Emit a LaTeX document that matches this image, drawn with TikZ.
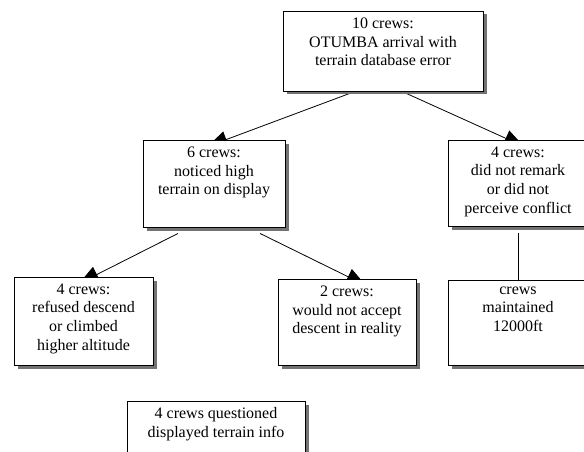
\documentclass[tikz,border=0pt]{standalone}
\usepackage{fontspec}
\setmainfont{Liberation Serif}
\usetikzlibrary{positioning, arrows.meta}
\pgfdeclarelayer{background}
\pgfsetlayers{background,main}

\begin{document}
\begin{tikzpicture}[x=1pt, y=1pt,
	box/.style={draw, fill=white, line width=0.9pt, rectangle, inner sep=0pt,
		preaction={draw=none, fill=black!55, transform canvas={shift={(3.5pt,-3.5pt)}}}},
	txt/.style={align=center, inner sep=0pt, font=\fontsize{16}{18.7}\selectfont,
		execute at begin node=\strut},
	link/.style={line width=0.8pt, -{Triangle[length=20pt, width=17pt]}}]
	\useasboundingbox (0,0) rectangle (584,-452);

	\node[box, minimum width=200pt, minimum height=80pt] (all) at (383,-51) {};
	\node[box, minimum width=142pt, minimum height=87pt] (noticed) at (214,-183.5) {};
	\node[box, minimum width=140pt, minimum height=86pt] (noremark) at (518,-183) {};
	\node[box, minimum width=139pt, minimum height=88pt] (refused) at (83.5,-321) {};
	\node[box, minimum width=138pt, minimum height=86pt] (noaccept) at (347,-322) {};
	\node[box, minimum width=140pt, minimum height=85pt] (kept) at (518,-322.5) {};
	\node[box, minimum width=178pt, minimum height=87pt] (questioned) at (216,-444.5) {};

	\node[txt, below=7pt of all.north] (all-t) {10 crews:\\OTUMBA arrival with\\terrain database error};
	\node[txt, below=7pt of noticed.north] (noticed-t) {6 crews:\\noticed high\\terrain on display};
	\node[txt, below=7pt of noremark.north] (noremark-t) {4 crews:\\did not remark\\or did not\\perceive conflict};
	\node[txt, below=7pt of refused.north] (refused-t) {4 crews:\\refused descend\\or climbed\\higher altitude};
	\node[txt, below=7pt of noaccept.north] (noaccept-t) {2 crews:\\would not accept\\descent in reality};
	\node[txt, below=7pt of kept.north] (kept-t) {crews\\maintained\\12000ft};
	\node[txt, below=7pt of questioned.north] (questioned-t) {4 crews questioned\\displayed terrain info};

	% connectors go under the boxes
	\begin{pgfonlayer}{background}
		\draw[link] ([xshift=-28pt]all.south) -- ([xshift=-6.5pt, yshift=-7pt]noticed.north);
		\draw[link] ([xshift=19pt]all.south) -- ([xshift=6pt, yshift=-7pt]noremark.north);
		\draw[link] ([xshift=-36pt, yshift=-6pt]noticed.south) -- ([xshift=-4.5pt, yshift=-7pt]refused.north);
		\draw[link] ([xshift=46pt, yshift=-6pt]noticed.south) -- ([xshift=19pt, yshift=-7pt]noaccept.north);
		\draw[line width=0.8pt] ([yshift=-7pt]noremark.south) -- (kept.north);
	\end{pgfonlayer}
\end{tikzpicture}
\end{document}
